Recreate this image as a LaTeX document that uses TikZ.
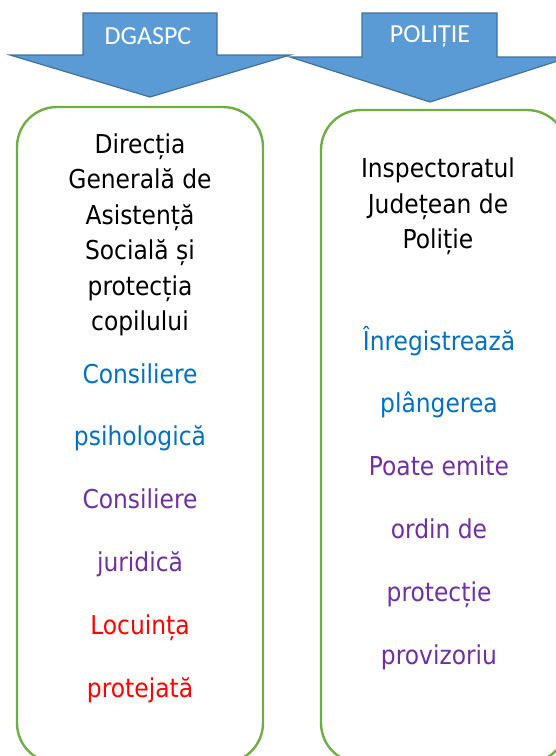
\documentclass[tikz,border=0pt]{standalone}
\usepackage{fontspec}
\setmainfont{DejaVu Sans Condensed}
\newfontfamily\arrowfont{Carlito}
\usetikzlibrary{positioning}
\definecolor{arrowfill}{HTML}{5B9BD5}
\definecolor{arrowedge}{HTML}{41719C}
\definecolor{panelgreen}{HTML}{70AD47}
\definecolor{txtblue}{HTML}{0070C0}
\definecolor{txtpurple}{HTML}{7030A0}
\definecolor{txtred}{HTML}{FF0000}
\tikzset{
    every node/.style={inner sep=0pt, align=center}, % no padding round the texts
    headarrow/.style={fill=arrowfill, draw=arrowedge, line width=1.2pt, line join=miter}, % the two block arrows
    heading/.style={font=\arrowfont\fontsize{26}{30}\selectfont, text=white}, % text inside an arrow
    panel/.style={draw=panelgreen, line width=2.4pt, rounded corners=40pt}, % the two tall boxes
    title/.style={font=\fontsize{26}{35.5}\selectfont, anchor=north}, % black name of the institution
    entry/.style={font=\fontsize{26}{30}\selectfont, text height=19pt, text depth=6pt}, % coloured lines
    node distance=62.8pt, % distance between the coloured lines
}
\begin{document}
\begin{tikzpicture}[x=1pt, y=-1pt]
\useasboundingbox (0,0) rectangle (556,756);
\clip (0,0) rectangle (556,756);

% arrows
\draw[headarrow] (83,13) -- (217,13) -- (217,55) -- (290,55) -- (150,97) -- (10,55) -- (83,55) -- cycle;
\node[heading] (dgaspc) at (148,36) {DGASPC};
\draw[headarrow] (362,13) -- (497,13) -- (497,57) -- (570,57) -- (430,102) -- (290,57) -- (362,57) -- cycle;
\node[heading] (politie) at (430,36) {POLIȚIE};

% boxes
\draw[panel] (17,107) rectangle (263,763);
\draw[panel] (321,110) rectangle (567,763);

% left column
\node[title] (dgtitle) at (140,133.5) {Direcția\\Generală de\\Asistență\\Socială și\\protecția\\copilului};
\node[entry, text=txtblue] (cons1) at (140,376.5) {Consiliere};
\node[entry, text=txtblue, below of=cons1] (psiho) {psihologică};
\node[entry, text=txtpurple, below of=psiho] (cons2) {Consiliere};
\node[entry, text=txtpurple, below of=cons2] (jurid) {juridică};
\node[entry, text=txtred, below of=jurid] (locu) {Locuința};
\node[entry, text=txtred, below of=locu] (prot) {protejată};

% right column
\node[title] (ijtitle) at (438,158) {Inspectoratul\\Județean de\\Poliție};
\node[entry, text=txtblue] (inreg) at (439,343.5) {Înregistrează};
\node[entry, text=txtblue, below of=inreg] (plang) {plângerea};
\node[entry, text=txtpurple, below of=plang] (poate) {Poate emite};
\node[entry, text=txtpurple, below of=poate] (ordin) {ordin de};
\node[entry, text=txtpurple, below of=ordin] (protec) {protecție};
\node[entry, text=txtpurple, below of=protec] (proviz) {provizoriu};
\end{tikzpicture}
\end{document}
